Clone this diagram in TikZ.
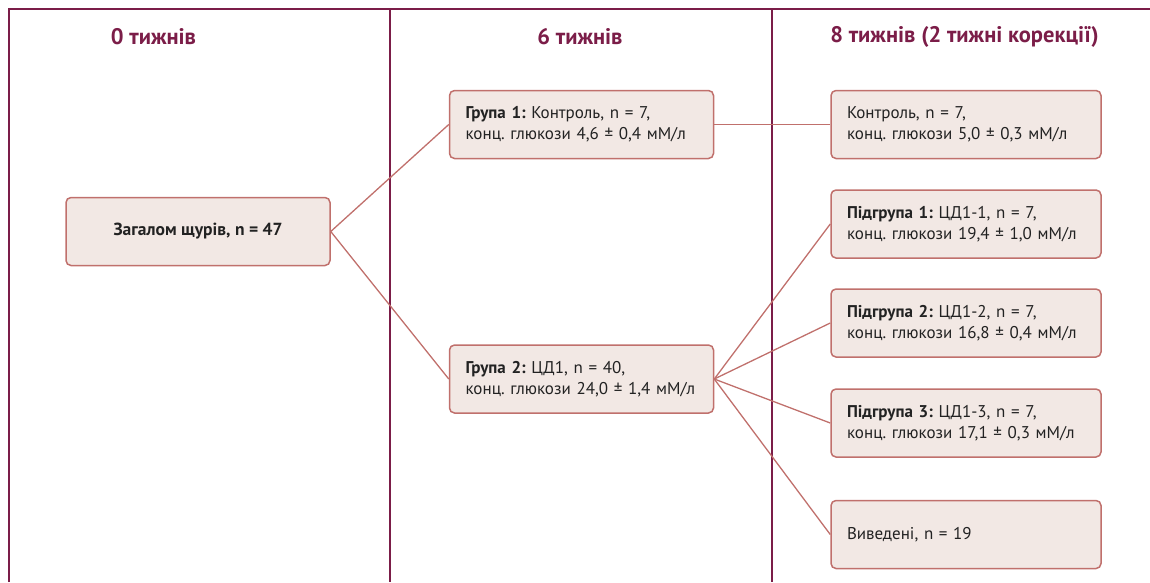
\documentclass[tikz,border=0pt]{standalone}
\usepackage{fontspec}
\setmainfont{PT Sans}
\frenchspacing
\definecolor{maroon}{HTML}{7B1D48}
\definecolor{boxline}{HTML}{C0706C}
\definecolor{boxfill}{HTML}{F2E8E4}
\definecolor{txt}{HTML}{222222}
\begin{document}
\begin{tikzpicture}[x=1pt,y=-1pt,
  frame/.style={draw=maroon,line width=2pt},
  head/.style={text=maroon,font=\fontsize{22.5}{26}\selectfont\bfseries,inner sep=0pt},
  box/.style={draw=boxline,fill=boxfill,line width=1.5pt,rounded corners=5pt,
    minimum height=68pt,text=txt,font=\fontsize{17}{21}\selectfont,
    inner xsep=16pt,inner ysep=0pt},
  gbox/.style={box,minimum width=264pt,text width=232pt,align=left},
  sbox/.style={box,minimum width=270pt,text width=238pt,align=left},
  link/.style={draw=boxline,line width=1.3pt}]
\useasboundingbox (0,0) rectangle (1150,582);
% frame
\coordinate (f0b) at (9,582);
\coordinate (f0t) at (9,9);
\coordinate (fr) at (1150,9);
\coordinate (f1t) at (390,9);
\coordinate (f1b) at (390,582);
\coordinate (f2t) at (772,9);
\coordinate (f2b) at (772,582);
\draw[frame] (f0b) -- (f0t) -- (fr);
\draw[frame] (f1t) -- (f1b);
\draw[frame] (f2t) -- (f2b);
% headers
\node[head] (h0) at (153.5,37) {0 тижнів};
\node[head] (h1) at (580,37) {6 тижнів};
\node[head] (h2) at (964.5,37) {8 тижнів (2 тижні корекції)};
% boxes
\node[box,minimum width=264pt,align=center,font=\fontsize{17.5}{21}\selectfont\bfseries] (all) at (198,231.5) {Загалом щурів, n = 47};
\node[gbox] (g1) at (581.5,124.5) {\mbox{\textbf{Група 1:} Контроль, n = 7,}\\\mbox{конц. глюкози 4,6 ± 0,4 мМ/л}};
\node[gbox] (g2) at (581.5,379) {\mbox{\textbf{Група 2:} ЦД1, n = 40,}\\\mbox{конц. глюкози 24,0 ± 1,4 мМ/л}};
\node[sbox] (c) at (966,124.5) {\mbox{Контроль, n = 7,}\\\mbox{конц. глюкози 5,0 ± 0,3 мМ/л}};
\node[sbox] (s1) at (966,224) {\mbox{\textbf{Підгрупа 1:} ЦД1-1, n = 7,}\\\mbox{конц. глюкози 19,4 ± 1,0 мМ/л}};
\node[sbox] (s2) at (966,323) {\mbox{\textbf{Підгрупа 2:} ЦД1-2, n = 7,}\\\mbox{конц. глюкози 16,8 ± 0,4 мМ/л}};
\node[sbox] (s3) at (966,423) {\mbox{\textbf{Підгрупа 3:} ЦД1-3, n = 7,}\\\mbox{конц. глюкози 17,1 ± 0,3 мМ/л}};
\node[sbox] (w) at (966,534.5) {Виведені, n = 19};
% links
\draw[link] (all.east) -- (g1.west);
\draw[link] (all.east) -- (g2.west);
\draw[link] (g1.east) -- (c.west);
\draw[link] (g2.east) -- (s1.west);
\draw[link] (g2.east) -- (s2.west);
\draw[link] (g2.east) -- (s3.west);
\draw[link] (g2.east) -- (w.west);
\end{tikzpicture}
\end{document}
